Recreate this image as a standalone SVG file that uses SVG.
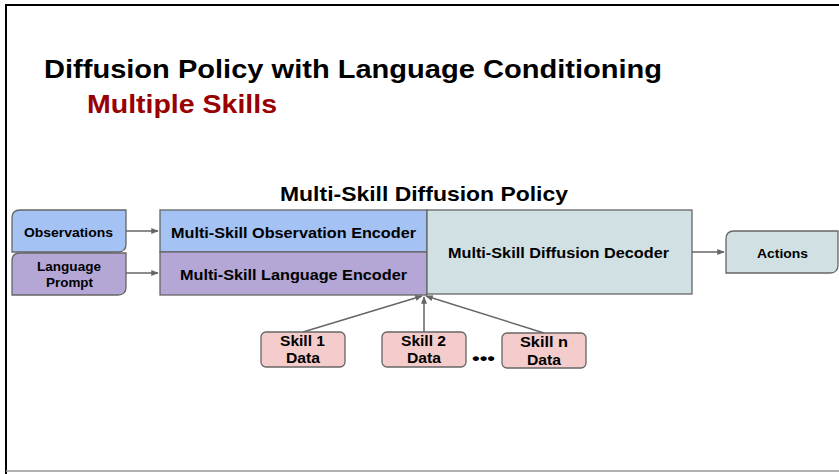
<svg xmlns="http://www.w3.org/2000/svg" width="839" height="474" viewBox="0 0 839 474">
<defs>
<style>
text{font-family:"Liberation Sans",Arial,sans-serif;font-weight:bold;fill:#000}
.box{stroke:#666;stroke-width:1.3}
.c{stroke:#666;stroke-width:1.5;fill:none}
.lbl{font-size:14px;text-anchor:middle}
.sm{font-size:12.5px;text-anchor:middle}
.sk{font-size:14px;text-anchor:middle}
</style>
<marker id="ah" viewBox="0 0 10 10" refX="9" refY="5" markerWidth="5" markerHeight="5" orient="auto"><path d="M0,1 L10,5 L0,9 z" fill="#666"/></marker>
</defs>
<rect x="0" y="0" width="839" height="474" fill="#fff"/>
<path d="M6,474 V5 H839" fill="none" stroke="#000" stroke-width="2"/>
<line x1="6" y1="471" x2="839" y2="471" stroke="#999" stroke-width="1.5"/>
<text x="44" y="78" style="font-size:25px" textLength="618" lengthAdjust="spacingAndGlyphs">Diffusion Policy with Language Conditioning</text>
<text x="87" y="113" style="font-size:25px;fill:#990000" textLength="190" lengthAdjust="spacingAndGlyphs">Multiple Skills</text>
<text x="280" y="201" style="font-size:20.5px" textLength="288" lengthAdjust="spacingAndGlyphs">Multi-Skill Diffusion Policy</text>
<g id="connectors">
<line class="c" x1="126" y1="231" x2="158" y2="231" marker-end="url(#ah)"/>
<line class="c" x1="126" y1="273" x2="158" y2="273" marker-end="url(#ah)"/>
<line class="c" x1="692" y1="252" x2="724" y2="252" marker-end="url(#ah)"/>
<line class="c" x1="303" y1="332" x2="422" y2="296" marker-end="url(#ah)"/>
<line class="c" x1="424" y1="332" x2="424" y2="297" marker-end="url(#ah)"/>
<line class="c" x1="544" y1="333" x2="426" y2="296" marker-end="url(#ah)"/>
</g>
<g id="observations">
<path class="box" fill="#a4c2f4" d="M20,210 H126 V244 Q126,252 118,252 H12 V218 Q12,210 20,210 Z"/>
<text x="24" y="237" style="font-size:13px" textLength="89" lengthAdjust="spacingAndGlyphs">Observations</text>
</g>
<g id="language-prompt">
<path class="box" fill="#b4a7d6" d="M20,253 H126 V287 Q126,295 118,295 H12 V261 Q12,253 20,253 Z"/>
<text x="37" y="271" style="font-size:13px" textLength="64" lengthAdjust="spacingAndGlyphs">Language</text>
<text x="46" y="287" style="font-size:13px" textLength="47" lengthAdjust="spacingAndGlyphs">Prompt</text>
</g>
<g id="observation-encoder">
<rect class="box" fill="#a4c2f4" x="160" y="210" width="267" height="42"/>
<text x="171" y="238" style="font-size:14px" textLength="245" lengthAdjust="spacingAndGlyphs">Multi-Skill Observation Encoder</text>
</g>
<g id="language-encoder">
<rect class="box" fill="#b4a7d6" x="160" y="252" width="267" height="43"/>
<text x="180" y="280" style="font-size:14px" textLength="227" lengthAdjust="spacingAndGlyphs">Multi-Skill Language Encoder</text>
</g>
<g id="diffusion-decoder">
<rect class="box" fill="#d0e0e3" x="427" y="210" width="265" height="84"/>
<text x="448" y="258" style="font-size:14px" textLength="221" lengthAdjust="spacingAndGlyphs">Multi-Skill Diffusion Decoder</text>
</g>
<g id="actions">
<path class="box" fill="#d0e0e3" d="M734,231 H838 V265 Q838,273 830,273 H726 V239 Q726,231 734,231 Z"/>
<text x="757" y="258" style="font-size:13px" textLength="51" lengthAdjust="spacingAndGlyphs">Actions</text>
</g>
<g id="skill-1">
<rect class="box" fill="#f4cccc" x="261" y="332" width="84" height="35" rx="5"/>
<text x="280" y="346" style="font-size:14px" textLength="45" lengthAdjust="spacingAndGlyphs">Skill 1</text>
<text x="286" y="363" style="font-size:14px" textLength="34" lengthAdjust="spacingAndGlyphs">Data</text>
</g>
<g id="skill-2">
<rect class="box" fill="#f4cccc" x="382" y="332" width="84" height="35" rx="5"/>
<text x="401" y="346" style="font-size:14px" textLength="45" lengthAdjust="spacingAndGlyphs">Skill 2</text>
<text x="407" y="363" style="font-size:14px" textLength="34" lengthAdjust="spacingAndGlyphs">Data</text>
</g>
<text x="472" y="364" style="font-size:16px" textLength="23" lengthAdjust="spacingAndGlyphs">•••</text>
<g id="skill-n">
<rect class="box" fill="#f4cccc" x="502" y="333" width="84" height="35" rx="5"/>
<text x="520" y="347" style="font-size:14px" textLength="48" lengthAdjust="spacingAndGlyphs">Skill n</text>
<text x="527" y="365" style="font-size:14px" textLength="34" lengthAdjust="spacingAndGlyphs">Data</text>
</g>
</svg>
